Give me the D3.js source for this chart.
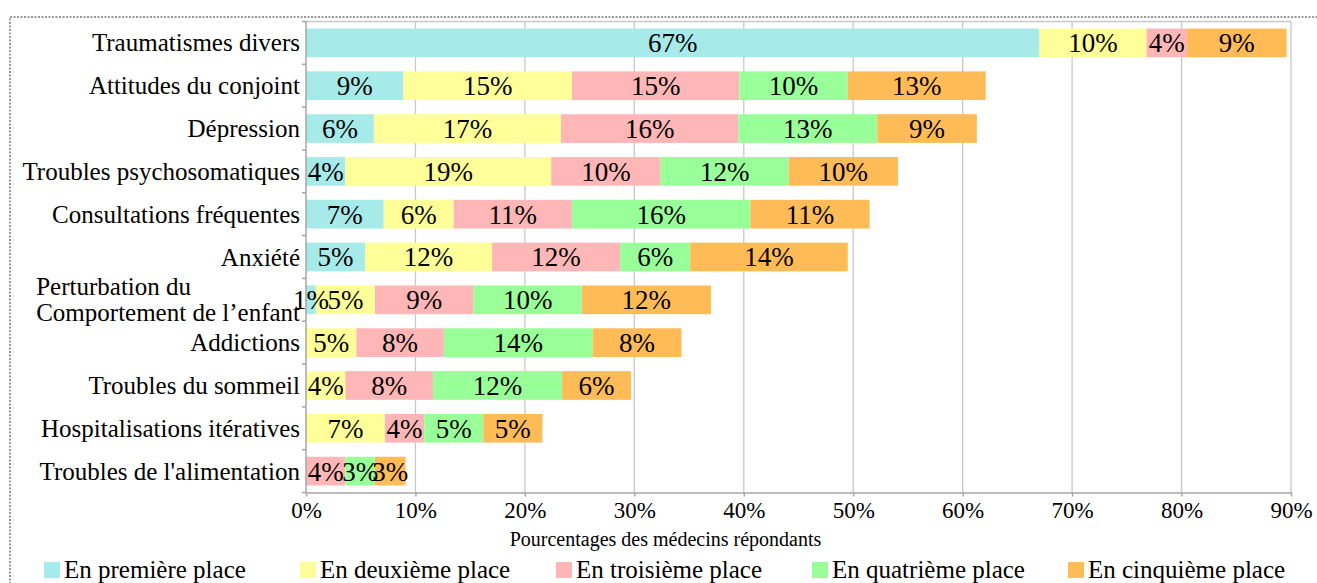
<!DOCTYPE html>
<html>
<head>
<meta charset="utf-8">
<script src="https://cdn.jsdelivr.net/npm/d3@7"></script>
<style>
  html, body { margin: 0; padding: 0; background: #fff; }
  svg { display: block; }
  svg text { font-family: "Liberation Serif", "Times New Roman", serif !important; }
</style>
</head>
<body>
<svg id="chart" width="1317" height="583"></svg>
<script>
const categories = [
  "Traumatismes divers",
  "Attitudes du conjoint",
  "Dépression",
  "Troubles psychosomatiques",
  "Consultations fréquentes",
  "Anxiété",
  "Perturbation du\nComportement de l’enfant",
  "Addictions",
  "Troubles du sommeil",
  "Hospitalisations itératives",
  "Troubles de l'alimentation"
];
const seriesNames = ["En première place", "En deuxième place", "En troisième place", "En quatrième place", "En cinquième place"];
const premiere  = [67.0, 8.9, 6.2, 3.6, 7.1, 5.4, 0.9, 0, 0, 0, 0];
const deuxieme  = [9.8, 15.4, 17.1, 18.8, 6.4, 11.6, 5.4, 4.6, 3.6, 7.2, 0];
const troisieme = [3.7, 15.3, 16.2, 10.0, 10.8, 11.7, 9.0, 8.0, 8.0, 3.6, 3.6];
const quatrieme = [0, 9.9, 12.7, 11.7, 16.3, 6.4, 9.9, 13.6, 11.8, 5.4, 2.7];
const cinquieme = [9.1, 12.6, 9.1, 10.0, 10.9, 14.4, 11.8, 8.1, 6.3, 5.4, 2.8];
const xTicks = [0, 10, 20, 30, 40, 50, 60, 70, 80, 90];
const axisTitle = "Pourcentages des médecins répondants";
const colors = ["#a6eaea", "#ffff99", "#ffb6b6", "#99ff99", "#ffbb55"];

const seriesValues = [premiere, deuxieme, troisieme, quatrieme, cinquieme];
const rows = categories.map((c, i) => {
  const o = { cat: c };
  seriesNames.forEach((s, k) => o[s] = seriesValues[k][i]);
  return o;
});
const stacked = d3.stack().keys(seriesNames)(rows);

const svg = d3.select("#chart");
const L = 306, R = 1291, T = 21.5, B = 492.5;

// outer dotted frame
svg.append("rect").attr("x", 10).attr("y", 17).attr("width", 1400).attr("height", 700)
  .attr("fill", "none").attr("stroke", "#9a9a9a").attr("stroke-width", 2).attr("stroke-dasharray", "2,1.5");

const x = d3.scaleLinear().domain([0, 90]).range([L, R]);
const y = d3.scaleBand().domain(categories).range([T, B]).paddingInner(0.33).paddingOuter(0.165);

// gridlines
svg.append("g").selectAll("line").data(xTicks.slice(1)).join("line")
  .attr("x1", d => x(d)).attr("x2", d => x(d)).attr("y1", T).attr("y2", B)
  .attr("stroke", "#c8c8c8").attr("stroke-width", 1.3);
svg.append("line").attr("x1", L).attr("x2", R).attr("y1", T).attr("y2", T)
  .attr("stroke", "#c8c8c8").attr("stroke-width", 1.3);

// bars
const g = svg.append("g");
stacked.forEach((layer, k) => {
  g.append("g").selectAll("rect").data(layer).join("rect")
    .attr("x", d => x(d[0])).attr("width", d => x(d[1]) - x(d[0]))
    .attr("y", (d, i) => y(categories[i])).attr("height", y.bandwidth())
    .attr("fill", colors[k]);
});
stacked.forEach((layer, k) => {
  g.append("g").selectAll("text").data(layer.filter(d => d[1] - d[0] > 0)).join("text")
    .attr("x", d => (x(d[0]) + x(d[1])) / 2)
    .attr("y", d => y(d.data.cat) + y.bandwidth() / 2)
    .attr("dy", "0.35em").attr("text-anchor", "middle")
    .attr("font-size", 27).attr("fill", "#000")
    .text(d => Math.round(d[1] - d[0]) + "%");
});

// x axis
const xAxis = d3.axisBottom(x).tickValues(xTicks).tickFormat(d => d + "%").tickSize(4).tickSizeOuter(0);
const xg = svg.append("g").attr("transform", `translate(0,${B})`).call(xAxis);
xg.attr("font-family", null);
xg.select(".domain").attr("stroke", "#a6a6a6").attr("stroke-width", 1.5);
xg.selectAll(".tick line").attr("stroke", "#a6a6a6").attr("stroke-width", 1.5);
xg.selectAll(".tick text").attr("font-size", 23)
  .attr("fill", "#000").attr("y", 9).attr("dy", "0.71em");

// y axis line and ticks at band boundaries
svg.append("line").attr("x1", L).attr("x2", L).attr("y1", T).attr("y2", B)
  .attr("stroke", "#a6a6a6").attr("stroke-width", 1.5);
const step = y.step();
const bounds = d3.range(categories.length + 1).map(i => T + i * step);
svg.append("g").selectAll("line").data(bounds).join("line")
  .attr("x1", L - 4).attr("x2", L).attr("y1", d => d).attr("y2", d => d)
  .attr("stroke", "#a6a6a6").attr("stroke-width", 1.5);

// category labels
const lab = svg.append("g").attr("font-size", 25).attr("fill", "#000");
categories.forEach(c => {
  const lines = c.split("\n");
  const cy = y(c) + y.bandwidth() / 2;
  if (lines.length === 1) {
    lab.append("text").attr("x", 300).attr("y", cy + 8.5).attr("text-anchor", "end").text(c);
  } else {
    const ts = lines.map((ln, j) => lab.append("text").attr("y", cy + 8.5 + (j - (lines.length - 1) / 2) * 26).text(ln));
    const w = d3.max(ts, t => t.node().getComputedTextLength());
    ts.forEach(t => t.attr("x", 300 - w));
  }
});

// axis title
svg.append("text").attr("x", (L + R) / 2 - 133).attr("y", 546).attr("text-anchor", "middle")
  .attr("font-size", 20).text(axisTitle);

// legend
const leg = svg.append("g");
seriesNames.forEach((s, k) => {
  const lx = 44 + k * 256;
  leg.append("rect").attr("x", lx).attr("y", 562).attr("width", 16).attr("height", 16).attr("fill", colors[k]);
  leg.append("text").attr("x", lx + 20).attr("y", 578).attr("font-size", 25).text(s);
});
</script>
</body>
</html>
